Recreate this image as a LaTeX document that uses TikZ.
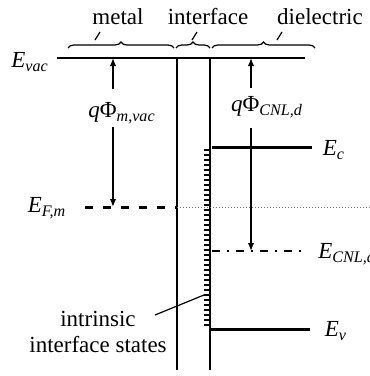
\documentclass[tikz,border=0pt]{standalone}
\usepackage{fontspec}
\setmainfont{Liberation Serif}
\usetikzlibrary{arrows.meta, decorations.pathreplacing}
\tikzset{
  lbl/.style ={font=\fontsize{11.5}{13}\selectfont, inner sep=1pt, align=center},
  wall/.style={line width=0.7pt},
  band/.style={line width=1.5pt},
  efm/.style ={line width=1.5pt, dash pattern=on 4pt off 5pt},
  cnl/.style ={line width=1.4pt, dash pattern=on 4pt off 3.5pt on 1pt off 3.5pt},
  dotl/.style={line width=0.5pt, black!55, dash pattern=on 0.6pt off 0.9pt},
  fl/.style  ={-{Latex[length=4pt, width=3.2pt]}, line width=0.7pt},
  brc/.style ={decorate, decoration={brace, amplitude=3pt}, line width=0.6pt},
  tck/.style ={line width=0.6pt},
}
\newcommand{\ev}[1]{\textit{E}\textsubscript{\textit{#1}}}

\begin{document}
\begin{tikzpicture}[x=0.5pt, y=-0.5pt]
  \useasboundingbox (0,0) rectangle (370,376);
  % vacuum level and the walls of the interface layer
  \coordinate (vacL) at (57,58);
  \coordinate (vacR) at (305,58);
  \draw[wall] (vacL) -- (vacR);
  \coordinate (wmT) at (177,58);  \coordinate (wmB) at (177,370);
  \coordinate (wdT) at (210,58);  \coordinate (wdB) at (210,370);
  \draw[wall] (wmT) -- (wmB);
  \draw[wall] (wdT) -- (wdB);
  \node[lbl] (evac) at (30,62) {\ev{vac}};

  % regions
  \node[lbl] (metal) at (118,17) {metal};
  \node[lbl] (intf) at (208,17) {interface};
  \node[lbl] (diel) at (320,17) {dielectric};
  \draw[brc] (68,48) -- (174,48);
  \draw[brc] (176,48) -- (210,48);
  \draw[brc] (212,48) -- (315,48);
  \coordinate (bm) at (95,40);
  \coordinate (bi) at (192,40);
  \coordinate (bd) at (277,40);
  \draw[tck] (bm) -- ++(5,-8);
  \draw[tck] (bi) -- ++(5,-8);
  \draw[tck] (bd) -- ++(5,-8);

  % metal Fermi level
  \node[lbl] (efmL) at (47,208) {\ev{F,m}};
  \coordinate (efA) at (85,207);
  \coordinate (efB) at (177,207);
  \coordinate (efC) at (370,207);
  \draw[efm] (efA) -- (efB);
  \draw[dotl] (efB) -- (efC);

  % dielectric bands
  \coordinate (ecA) at (212,147);  \coordinate (ecB) at (312,147);
  \coordinate (cnA) at (212,251);  \coordinate (cnB) at (306,251);
  \coordinate (evA) at (210,329);  \coordinate (evB) at (310,329);
  \draw[band] (ecA) -- (ecB);
  \draw[cnl] (cnA) -- (cnB);
  \draw[band] (evA) -- (evB);
  \node[lbl] (ecL) at (334,150) {\ev{c}};
  \node[lbl, anchor=west] (cnL) at (316,254) {\ev{CNL,d}};
  \node[lbl] (evL) at (336,331) {\ev{v}};

  % barrier heights
  \node[lbl] (phim) at (122,113) {\textit{q}Φ\textsubscript{\textit{m,vac}}};
  \node[lbl] (phic) at (267,107) {\textit{q}Φ\textsubscript{\textit{CNL,d}}};
  \coordinate (pmU) at (113,89);   \coordinate (pmD) at (113,127);
  \coordinate (pcU) at (251,88);   \coordinate (pcD) at (251,128);
  \draw[fl] (pmU) -- (pmU |- vacL);
  \draw[fl] (pmD) -- (pmD |- efA);
  \draw[fl] (pcU) -- (pcU |- vacL);
  \draw[fl] (pcD) -- (pcD |- cnA);

  % interface states
  \foreach \y in {150,155,...,325}
    \draw[tck] (204,\y) -- (210,\y);
  \node[lbl] (iis) at (98,332) {intrinsic\\interface states};
  \coordinate (iisA) at (155,315);
  \coordinate (iisB) at (204,295);
  \draw[tck] (iisA) -- (iisB);
\end{tikzpicture}
\end{document}
